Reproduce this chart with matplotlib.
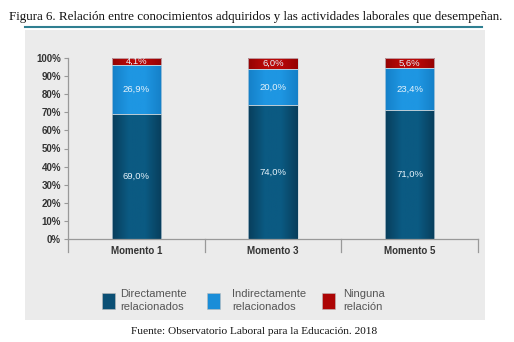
import matplotlib
matplotlib.use("Agg")
import matplotlib.pyplot as plt
import numpy as np
from matplotlib.patches import Rectangle
from matplotlib.lines import Line2D

categories = ["Momento 1", "Momento 3", "Momento 5"]
directos = [69.0, 74.0, 71.0]
indirectos = [26.9, 20.0, 23.4]
ninguna = [4.1, 6.0, 5.6]
series_names = ["Directamente\nrelacionados", "Indirectamente\nrelacionados", "Ninguna\nrelación"]
yticks = [0, 10, 20, 30, 40, 50, 60, 70, 80, 90, 100]

title = "Figura 6. Relación entre conocimientos adquiridos y las actividades laborales que desempeñan."
source = "Fuente: Observatorio Laboral para la Educación. 2018"

W, H = 514, 342
fig = plt.figure(figsize=(W / 100, H / 100), dpi=100)
fig.patch.set_facecolor("white")

def fx(px):
    return px / W

def fy(py):
    return 1 - py / H

# gray panel
fig.patches.append(Rectangle((fx(25), fy(320)), fx(485) - fx(25), fy(30) - fy(320),
                             transform=fig.transFigure, facecolor="#ebebeb", edgecolor="none", zorder=-5))
# title + underline
fig.text(fx(256), fy(17), title, ha="center", va="center", fontsize=9.4,
         family="Liberation Serif", color="#111111")
fig.lines.append(Line2D([fx(25), fx(482)], [fy(26.5), fy(26.5)], transform=fig.transFigure,
                        color="#2f7f91", linewidth=1.5))
fig.text(fx(254), fy(331), source, ha="center", va="center", fontsize=8.2,
         family="Liberation Serif", color="#111111")

ax = fig.add_axes([fx(68), fy(239), fx(478) - fx(68), fy(58) - fy(239)])
ax.set_zorder(5)
ax.set_facecolor("none")

colors = ["#0b5075", "#1a8dd8", "#ad0505"]
edges = [("#083e5c", "#0b5a82"), ("#1580c8", "#1e96e2"), ("#950303", "#b80808")]
x = np.arange(len(categories))
width = 0.36
bottoms = np.zeros(len(categories))
for vals, col, (ec, cc) in zip([directos, indirectos, ninguna], colors, edges):
    bars = ax.bar(x, vals, width, bottom=bottoms, color=col, edgecolor="#c9d6de", linewidth=0.5, zorder=3)
    cmap = matplotlib.colors.LinearSegmentedColormap.from_list("g", [ec, cc, cc, ec])
    grad = np.linspace(0, 1, 64).reshape(1, -1)
    for b, v, bt in zip(bars, vals, bottoms):
        im = ax.imshow(grad, cmap=cmap, aspect="auto", zorder=2.5,
                       extent=[b.get_x(), b.get_x() + b.get_width(), bt, bt + v])
        im.set_clip_path(b)
        b.set_facecolor("none")
        ax.text(b.get_x() + b.get_width() / 2, bt + v / 2, f"{v:.1f}%".replace(".", ","),
                ha="center", va="center", color="#e6f2fa", fontsize=6.8,
                family="Liberation Sans", zorder=4)
    bottoms = bottoms + np.array(vals)

ax.set_xlim(-0.5, len(categories) - 0.5)
ax.set_ylim(0, 100)
ax.set_yticks(yticks)
ax.set_yticklabels([f"{t}%" for t in yticks], fontsize=7, family="Liberation Sans",
                   color="#333333", fontweight="bold")
ax.tick_params(axis="y", length=3, width=0.8, color="#999999", pad=2)
ax.set_xticks(x)
ax.set_xticklabels(categories, fontsize=7, family="Liberation Sans", color="#333333",
                   fontweight="bold")
ax.tick_params(axis="x", length=0, pad=5)
for s in ["top", "right"]:
    ax.spines[s].set_visible(False)
for s in ["left", "bottom"]:
    ax.spines[s].set_color("#999999")
    ax.spines[s].set_linewidth(0.9)
# category separators
for xs in np.arange(-0.5, len(categories), 1.0):
    ax.plot([xs, xs], [0, -7], color="#999999", linewidth=0.9, clip_on=False, zorder=3)

# legend
leg_sq_x = [102, 207, 322]
leg_tx_x = [120, 232, 343]
for name, col, (ec, cc), sx, tx in zip(series_names, colors, edges, leg_sq_x, leg_tx_x):
    fig.patches.append(Rectangle((fx(sx), fy(309)), fx(13), fy(293) - fy(309),
                                 transform=fig.transFigure, facecolor=col, edgecolor="#bbbbbb",
                                 linewidth=0.4))
    fig.text(fx(tx), fy(300.5), name, ha="left", va="center", fontsize=8,
             family="Liberation Sans", color="#555555", linespacing=1.3)

fig.savefig("out.png", dpi=100, facecolor="white")
